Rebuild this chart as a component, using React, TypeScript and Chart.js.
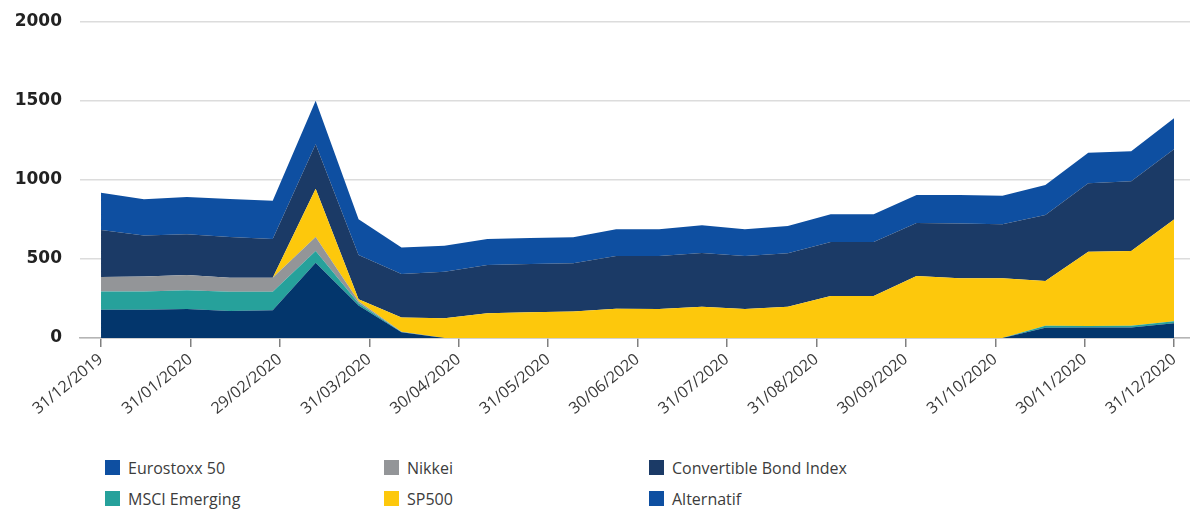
import { useEffect, useRef } from "react";
import { Chart, registerables } from "chart.js";

Chart.register(...registerables);

// month-end tick labels, evenly spaced along the axis
const dateLabels = [
  "31/12/2019",
  "31/01/2020",
  "29/02/2020",
  "31/03/2020",
  "30/04/2020",
  "31/05/2020",
  "30/06/2020",
  "31/07/2020",
  "31/08/2020",
  "30/09/2020",
  "31/10/2020",
  "30/11/2020",
  "31/12/2020",
];

// 26 observations over the year (index 0..25)
const eurostoxx = [179, 179, 184, 171, 175, 477, 205, 36, 0, 0, 0, 0, 0, 0, 0, 0, 0, 0, 0, 0, 0, 0, 65, 66, 66, 93];
const msciEmerging = [116, 116, 118, 122, 118, 74, 15, 2, 0, 0, 0, 0, 0, 0, 0, 0, 0, 0, 0, 0, 0, 0, 13, 10, 12, 13];
const nikkei = [91, 95, 97, 89, 89, 88, 12, 1, 0, 0, 0, 0, 0, 0, 0, 0, 0, 0, 0, 0, 0, 0, 0, 0, 0, 0];
const sp500 = [0, 0, 0, 0, 0, 306, 14, 90, 125, 156, 163, 167, 185, 184, 198, 184, 198, 266, 266, 392, 378, 378, 283, 470, 473, 645];
const convertible = [298, 258, 257, 257, 245, 281, 280, 276, 295, 306, 305, 306, 334, 335, 340, 335, 338, 342, 342, 336, 346, 342, 417, 433, 441, 444];
const alternatif = [236, 230, 237, 241, 242, 276, 226, 167, 164, 165, 165, 164, 169, 169, 175, 169, 173, 175, 175, 177, 181, 181, 190, 194, 190, 196];

const seriesNames = ["Eurostoxx 50", "MSCI Emerging", "Nikkei", "SP500", "Convertible Bond Index", "Alternatif"];
const seriesValues = [eurostoxx, msciEmerging, nikkei, sp500, convertible, alternatif];
const fillColors = ["#03366c", "#26a19b", "#939598", "#fdc80c", "#1b3a66", "#0e4fa1"];
const legendColors = ["#0e4fa1", "#26a19b", "#939598", "#fdc80c", "#1b3a66", "#0e4fa1"];

const lastIndex = eurostoxx.length - 1;

function App() {
  const chartRef = useRef<HTMLCanvasElement | null>(null);
  const chartInstance = useRef<Chart | null>(null);

  useEffect(() => {
    document.body.style.margin = "0";
    if (!chartRef.current) return;
    const ctx = chartRef.current.getContext("2d");
    if (!ctx) return;

    if (chartInstance.current) {
      chartInstance.current.destroy();
    }

    chartInstance.current = new Chart(ctx, {
      type: "line",
      data: {
        datasets: seriesValues.map((values, i) => ({
          label: seriesNames[i],
          data: values.map((v, idx) => ({ x: idx, y: v })),
          backgroundColor: fillColors[i],
          borderColor: fillColors[i],
          borderWidth: 0,
          pointRadius: 0,
          tension: 0,
          fill: i === 0 ? "origin" : "-1",
        })),
      },
      options: {
        animation: false,
        responsive: true,
        maintainAspectRatio: false,
        layout: { padding: { top: 22, left: 0, right: 0, bottom: 0 } },
        plugins: {
          legend: { display: false },
          tooltip: { enabled: false },
        },
        scales: {
          x: {
            type: "linear",
            min: -0.49,
            max: lastIndex + 0.37,
            afterBuildTicks: (scale: any) => {
              scale.ticks = dateLabels.map((_, k) => ({ value: (k * lastIndex) / (dateLabels.length - 1) }));
            },
            afterFit: (scale: any) => {
              scale.height = 102;
            },
            grid: {
              drawOnChartArea: false,
              drawTicks: true,
              tickLength: 9,
              color: "#808080",
              lineWidth: 1.5,
            },
            border: { display: true, color: "#b5b5b5", width: 1.5 },
            ticks: {
              autoSkip: false,
              maxRotation: 39,
              minRotation: 39,
              padding: 3,
              color: "#3a3a3a",
              font: { family: "'Open Sans'", size: 16 },
              callback: (_v: any, index: number) => dateLabels[index],
            },
          },
          y: {
            stacked: true,
            min: 0,
            max: 2000,
            afterFit: (scale: any) => {
              scale.width = 80;
            },
            grid: {
              drawTicks: true,
              tickLength: 18,
              tickColor: "transparent",
              color: "#dcdcdc",
              lineWidth: 1.5,
            },
            border: { display: false },
            ticks: {
              stepSize: 500,
              padding: 0,
              color: "#222222",
              font: { family: "'DejaVu Sans'", size: 17, weight: "bold" },
              callback: (v: any) => String(v),
            },
          },
        },
      },
    });

    return () => {
      if (chartInstance.current) {
        chartInstance.current.destroy();
        chartInstance.current = null;
      }
    };
  }, []);

  const colX = [105, 384, 649];
  const rowY = [460, 491];

  return (
    <div style={{ position: "relative", width: 1190, height: 509, overflow: "hidden", background: "#fff" }}>
      <div style={{ position: "absolute", left: 0, top: 0, width: 1190, height: 440 }}>
        <canvas ref={chartRef} />
      </div>
      {seriesNames.map((name, i) => (
        <div
          key={name}
          style={{
            position: "absolute",
            left: colX[Math.floor(i / 2)],
            top: rowY[i % 2],
            display: "flex",
            alignItems: "center",
            height: 15,
            fontFamily: "'Open Sans'",
            fontSize: 16,
            color: "#3c3c3c",
            whiteSpace: "nowrap",
          }}
        >
          <span style={{ display: "inline-block", width: 15, height: 15, background: legendColors[i], marginRight: 8 }} />
          <span>{name}</span>
        </div>
      ))}
    </div>
  );
}

export default App;
